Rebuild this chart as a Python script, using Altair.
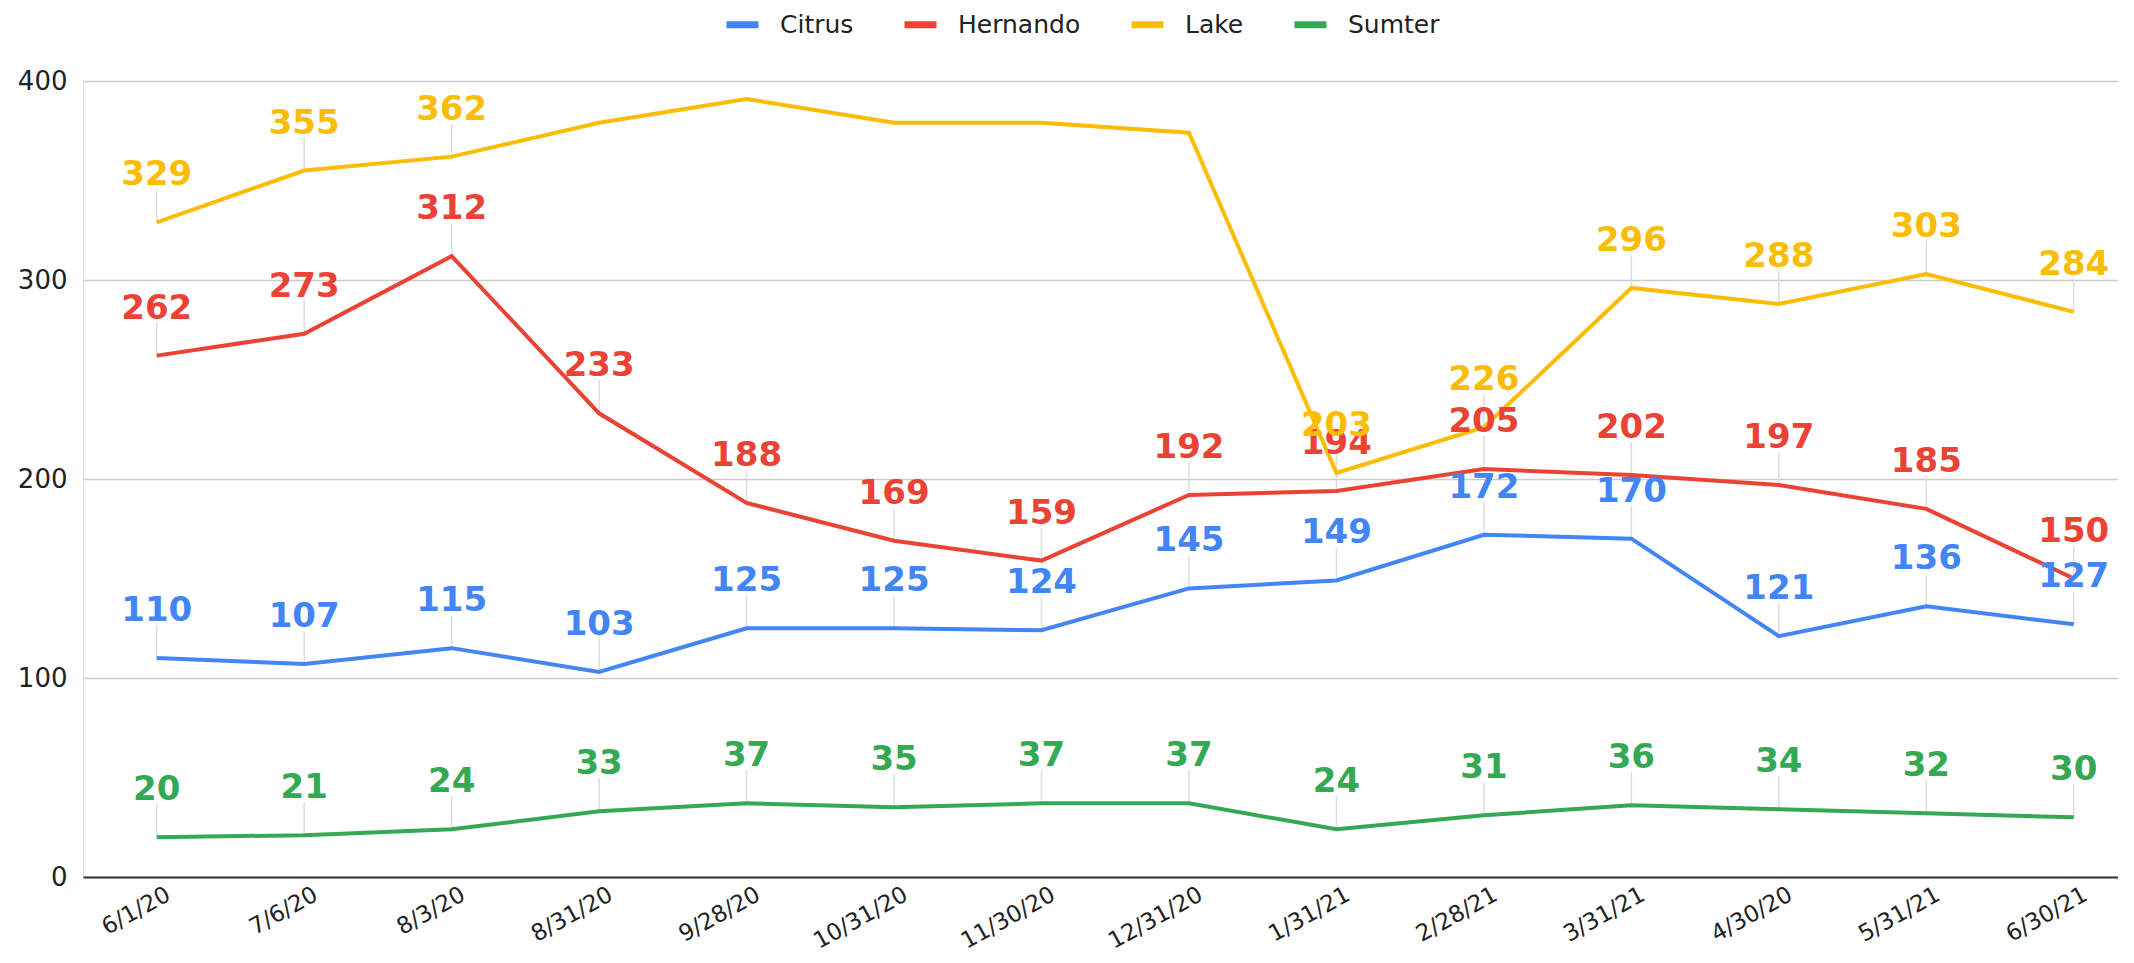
import altair as alt
import pandas as pd

dates = ["6/1/20", "7/6/20", "8/3/20", "8/31/20", "9/28/20", "10/31/20", "11/30/20",
         "12/31/20", "1/31/21", "2/28/21", "3/31/21", "4/30/20", "5/31/21", "6/30/21"]
citrus = [110, 107, 115, 103, 125, 125, 124, 145, 149, 172, 170, 121, 136, 127]
hernando = [262, 273, 312, 233, 188, 169, 159, 192, 194, 205, 202, 197, 185, 150]
lake = [329, 355, 362, 379, 391, 379, 379, 374, 203, 226, 296, 288, 303, 284]
sumter = [20, 21, 24, 33, 37, 35, 37, 37, 24, 31, 36, 34, 32, 30]
lake_unlabeled = [3, 4, 5, 6, 7]

counties = ["Citrus", "Hernando", "Lake", "Sumter"]
colors = ["#4285F4", "#EA4335", "#FBBC04", "#34A853"]
series = {"Citrus": citrus, "Hernando": hernando, "Lake": lake, "Sumter": sumter}

rows = []
for c in counties:
    for i, v in enumerate(series[c]):
        show = not (c == "Lake" and i in lake_unlabeled)
        rows.append({"idx": i, "date": dates[i], "county": c, "value": v, "show": show})
df = pd.DataFrame(rows)

label_expr = "[" + ",".join("'%s'" % d for d in dates) + "][datum.value]"

x = alt.X("idx:Q",
          scale=alt.Scale(domain=[-0.5, 13.3], nice=False, zero=False),
          axis=alt.Axis(values=list(range(len(dates))), labelExpr=label_expr, title=None,
                        grid=False, ticks=False, domain=True, domainColor="#333333",
                        domainWidth=2, labelAngle=-29, labelAlign="right",
                        labelBaseline="top", labelPadding=6, labelOffset=6,
                        labelFont="DejaVu Sans", labelFontSize=23, labelColor="#222222"))
y = alt.Y("value:Q",
          scale=alt.Scale(domain=[0, 400], nice=False),
          axis=alt.Axis(values=[0, 100, 200, 300, 400], title=None, grid=True,
                        gridColor="#cccccc", gridWidth=1.5, domain=False, ticks=False,
                        labelFont="DejaVu Sans", labelFontSize=26, labelColor="#222222",
                        labelPadding=16))
color = alt.Color("county:N",
                  scale=alt.Scale(domain=counties, range=colors),
                  legend=alt.Legend(title=None, orient="none", direction="horizontal",
                                    legendX=640, legendY=-76, symbolType="stroke",
                                    symbolSize=1024, symbolStrokeWidth=7,
                                    labelFont="DejaVu Sans", labelFontSize=25,
                                    labelColor="#222222", labelOffset=18,
                                    columnPadding=36))

base = alt.Chart(df)

leaders = base.transform_filter("datum.show").mark_rule(
    color="#dddddd", strokeWidth=1.5, y2Offset=-33
).encode(x=x, y=y, y2="value:Q")

lines = base.mark_line(strokeWidth=4).encode(x=x, y=y, color=color, order="idx:Q")

labels = base.transform_filter("datum.show").mark_text(
    font="DejaVu Sans", fontWeight="bold", fontSize=34, dy=-37,
    baseline="alphabetic", align="center"
).encode(x=x, y=y, text="value:Q",
         color=alt.Color("county:N", scale=alt.Scale(domain=counties, range=colors),
                         legend=None))

chart = alt.layer(leaders, lines, labels).properties(
    width=2035, height=796,
    autosize=alt.AutoSizeParams(type="none"),
    padding={"left": 75, "top": 73, "right": 0, "bottom": 85},
).configure_view(stroke=None).configure(background="white")

chart.save("out.html", embed_options={"renderer": "svg", "actions": False})
